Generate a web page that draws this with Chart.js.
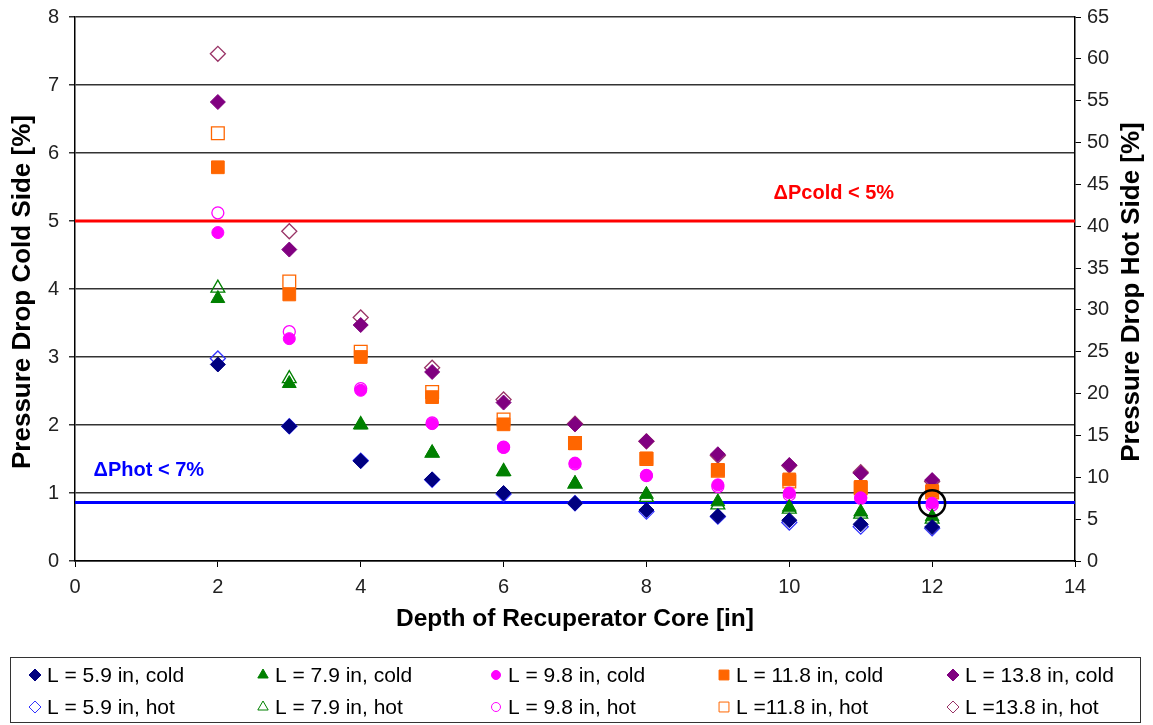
<!DOCTYPE html>
<html>
<head>
<meta charset="utf-8">
<script src="https://cdn.jsdelivr.net/npm/chart.js@4.4.1/dist/chart.umd.min.js"></script>
<style>
  body { margin: 0; background: #fff; }
  #wrap { width: 1153px; height: 725px; }
</style>
</head>
<body>
<div id="wrap"><canvas id="myChart" width="1153" height="725"></canvas></div>
<script>
// depth of the core [in]
const depth = [2, 3, 4, 5, 6, 7, 8, 9, 10, 11, 12];

// cold side pressure drop [%] (left axis)
const cold59  = [2.89, 1.98, 1.47, 1.20, 1.00, 0.85, 0.75, 0.66, 0.60, 0.54, 0.50];
const cold79  = [3.86, 2.61, 2.00, 1.59, 1.31, 1.14, 0.98, 0.87, 0.79, 0.72, 0.65];
const cold98  = [4.83, 3.27, 2.51, 2.02, 1.67, 1.44, 1.26, 1.12, 1.00, 0.93, 0.85];
const cold118 = [5.79, 3.92, 3.00, 2.41, 2.01, 1.73, 1.51, 1.34, 1.20, 1.09, 1.03];
const cold138 = [6.75, 4.58, 3.47, 2.78, 2.33, 2.01, 1.76, 1.57, 1.41, 1.29, 1.19];

// hot side pressure drop [%] (right axis)
const hot59  = [24.2, 16.1, 12.0, 9.7, 8.0, 6.9, 5.9, 5.3, 4.6, 4.1, 3.9];
const hot79  = [32.6, 21.8, 16.3, 12.9, 10.7, 9.2, 7.6, 6.7, 6.2, 5.6, 5.0];
const hot98  = [41.6, 27.4, 20.6, 16.5, 13.6, 11.6, 10.2, 8.9, 7.9, 7.5, 6.7];
const hot118 = [51.1, 33.4, 25.0, 20.2, 16.9, 14.1, 12.2, 10.8, 9.5, 8.7, 8.2];
const hot138 = [60.6, 39.4, 29.1, 23.1, 19.3, 16.4, 14.3, 12.6, 11.4, 10.6, 9.5];

const xTickLabels = [0, 2, 4, 6, 8, 10, 12, 14];
const coldLimit = 5;          // ΔPcold < 5%
const hotLimit = 7;           // ΔPhot < 7%
const chosen = { x: 12, y: 0.85 };

const series = [
  { label: 'L = 5.9 in, cold',  data: cold59,  axis: 'y',  shape: 'rectRot',  color: '#000080', r: 7.5, filled: true },
  { label: 'L = 7.9 in, cold',  data: cold79,  axis: 'y',  shape: 'triangle', color: '#008000', r: 8,   filled: true },
  { label: 'L = 9.8 in, cold',  data: cold98,  axis: 'y',  shape: 'circle',   color: '#ff00ff', r: 6,   filled: true },
  { label: 'L = 11.8 in, cold', data: cold118, axis: 'y',  shape: 'rect',     color: '#ff6600', r: 9,   filled: true },
  { label: 'L = 13.8 in, cold', data: cold138, axis: 'y',  shape: 'rectRot',  color: '#800080', r: 7.5, filled: true },
  { label: 'L = 5.9 in, hot',   data: hot59,   axis: 'y2', shape: 'rectRot',  color: '#3333ff', r: 7.5, filled: false },
  { label: 'L = 7.9 in, hot',   data: hot79,   axis: 'y2', shape: 'triangle', color: '#008000', r: 8,   filled: false },
  { label: 'L = 9.8 in, hot',   data: hot98,   axis: 'y2', shape: 'circle',   color: '#ff00ff', r: 6,   filled: false },
  { label: 'L =11.8 in, hot',   data: hot118,  axis: 'y2', shape: 'rect',     color: '#ff6600', r: 9,   filled: false },
  { label: 'L =13.8 in, hot',   data: hot138,  axis: 'y2', shape: 'rectRot',  color: '#993366', r: 7.5, filled: false }
];

const FONT = '"Liberation Sans", Arial, sans-serif';

function pts( ys ){
  return depth.map( (d, i) => ({ x: d, y: ys[i] }) );
}

let datasets = series.map( s => ({
  label: s.label,
  data: pts( s.data ),
  yAxisID: s.axis,
  pointStyle: s.shape,
  pointRadius: s.r,
  pointHoverRadius: s.r,
  pointBorderWidth: s.filled ? 1 : 1.3,
  borderColor: s.color,
  backgroundColor: s.filled ? s.color : 'rgba(255,255,255,0)',
  order: s.filled ? 1 : 2
}));

// limit lines
datasets.push({
  label: 'cold limit', data: [ {x: 0, y: coldLimit}, {x: 14, y: coldLimit} ],
  yAxisID: 'y', showLine: true, pointRadius: 0, borderColor: '#ff0000', borderWidth: 3, order: 3
});
datasets.push({
  label: 'hot limit', data: [ {x: 0, y: hotLimit}, {x: 14, y: hotLimit} ],
  yAxisID: 'y2', showLine: true, pointRadius: 0, borderColor: '#0000ff', borderWidth: 3, order: 3
});
// circled design point
datasets.push({
  label: 'chosen', data: [ chosen ], yAxisID: 'y',
  pointStyle: 'circle', pointRadius: 13, pointBorderWidth: 2.5,
  borderColor: '#000', backgroundColor: 'rgba(0,0,0,0)', order: 0
});

const extras = {
  id: 'extras',
  afterDraw( chart ){
    let ctx = chart.ctx;
    let sx = chart.scales.x, sy = chart.scales.y, sy2 = chart.scales.y2;
    ctx.save();
    // limit texts
    ctx.font = 'bold 20px ' + FONT;
    ctx.textBaseline = 'middle';
    ctx.textAlign = 'left';
    ctx.fillStyle = '#ff0000';
    ctx.fillText( 'ΔPcold < 5%', sx.getPixelForValue( 9.78 ), sy.getPixelForValue( 5.4 ) );
    ctx.fillStyle = '#0000ff';
    ctx.fillText( 'ΔPhot < 7%', sx.getPixelForValue( 0.26 ), sy2.getPixelForValue( 10.8 ) );

    // axis titles (vertical, reading upwards)
    ctx.fillStyle = '#000';
    ctx.font = 'bold 26px ' + FONT;
    ctx.textAlign = 'center';
    ctx.save();
    ctx.translate( 23, 292 );
    ctx.rotate( -Math.PI / 2 );
    ctx.fillText( 'Pressure Drop Cold Side [%]', 0, 0 );
    ctx.restore();
    ctx.save();
    ctx.translate( 1132, 292 );
    ctx.rotate( -Math.PI / 2 );
    ctx.fillText( 'Pressure Drop Hot Side [%]', 0, 0 );
    ctx.restore();

    // legend box
    ctx.strokeStyle = '#333';
    ctx.lineWidth = 1;
    ctx.strokeRect( 10.5, 657.5, 1130, 65 );
    let cols = [ 35, 263, 496, 724, 953 ];
    let rows = [ 675, 707 ];
    ctx.font = '21px ' + FONT;
    ctx.textAlign = 'left';
    series.forEach( (s, i) => {
      let cx = cols[i % 5], cy = rows[Math.floor(i / 5)];
      ctx.fillStyle = s.filled ? s.color : '#fff';
      ctx.strokeStyle = s.color;
      ctx.lineWidth = 1;
      let rr = s.shape === 'rect' ? 7 : (s.shape === 'circle' ? 4.5 : 6);
      Chart.helpers.drawPoint( ctx, { pointStyle: s.shape, radius: rr, rotation: 0, borderWidth: 1 }, cx, cy );
      ctx.fillStyle = '#000';
      ctx.fillText( s.label, cx + 12, cy + 1 );
    });
    ctx.restore();
  }
};

let config = {
  type: 'scatter',
  data: { datasets: datasets },
  options: {
    responsive: false,
    animation: false,
    events: [],
    layout: { padding: { top: 17, bottom: 89, left: 0, right: 0 } },
    plugins: {
      legend: { display: false },
      tooltip: { enabled: false }
    },
    scales: {
      x: {
        type: 'linear', min: 0, max: 14,
        afterBuildTicks: s => { s.ticks = xTickLabels.map( v => ({ value: v }) ); },
        ticks: { color: '#222', font: { size: 20, family: FONT }, padding: 8, maxRotation: 0 },
        grid: { drawOnChartArea: false, drawTicks: true, tickLength: 6, color: '#000' },
        border: { color: '#000', width: 1.5 },
        title: {
          display: true, text: 'Depth of Recuperator Core [in]', color: '#000',
          font: { size: 24.5, weight: 'bold', family: FONT },
          padding: { top: 0, bottom: 2 }
        },
        afterFit: s => { s.height = 75; s.paddingLeft = 0; s.paddingRight = 0; }
      },
      y: {
        position: 'left', min: 0, max: 8,
        ticks: { stepSize: 1, color: '#222', font: { size: 20, family: FONT }, padding: 10 },
        grid: { color: '#333', lineWidth: 1.5, tickLength: 6 },
        border: { color: '#000', width: 1.5 },
        afterFit: s => { s.width = 75; s.paddingTop = 0; s.paddingBottom = 0; }
      },
      y2: {
        position: 'right', min: 0, max: 65,
        ticks: { stepSize: 5, color: '#222', font: { size: 20, family: FONT }, padding: 6 },
        grid: { drawOnChartArea: false, tickLength: 6, color: '#000' },
        border: { color: '#000', width: 1.5 },
        afterFit: s => { s.width = 78; s.paddingTop = 0; s.paddingBottom = 0; }
      }
    }
  },
  plugins: [ extras ]
};

window.addEventListener( 'load', () => {
  let ctx = document.getElementById( 'myChart' ).getContext( '2d' );
  new Chart( ctx, config );
});
</script>
</body>
</html>
